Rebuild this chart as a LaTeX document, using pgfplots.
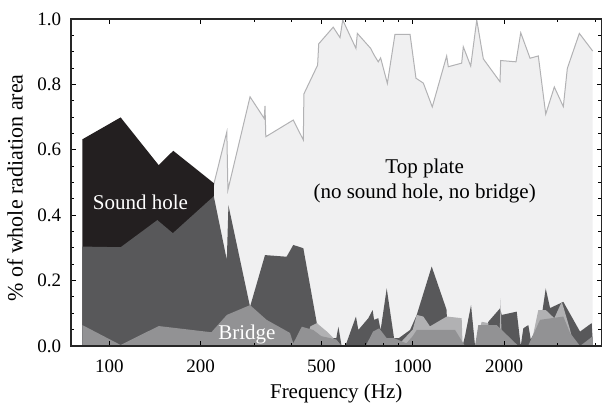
\documentclass[border=0pt]{standalone}
\usepackage{pgfplots}
\pgfplotsset{compat=1.18}
\usepackage{pgfplotstable}
\usepackage{fontspec}
\setmainfont{Liberation Serif}

\definecolor{topfill}{RGB}{240,240,241}
\definecolor{topline}{RGB}{178,178,180}
\definecolor{holecol}{RGB}{35,31,32}
\definecolor{darkcol}{RGB}{88,88,90}
\definecolor{lightmed}{RGB}{177,177,179}
\definecolor{bridgecol}{RGB}{146,146,148}

\pgfplotstableread{
f v
220 0.487
244 0.655
246 0.477
291 0.762
324 0.696
326 0.734
328 0.640
404 0.691
436 0.630
438 0.771
486 0.859
490 0.924
547 0.975
576 0.943
588 0.997
650 0.910
657 0.956
727 0.910
746 0.890
770 0.869
784 0.881
825 0.803
874 0.953
980 0.953
1025 0.819
1084 0.804
1160 0.731
1294 0.887
1310 0.854
1450 0.865
1468 0.915
1553 0.856
1626 0.997
1709 0.878
1940 0.808
1950 0.873
2190 0.869
2270 0.958
2436 0.880
2594 0.887
2744 0.709
2929 0.792
3136 0.732
3233 0.849
3541 0.956
3920 0.902
}\toptable

\pgfplotstableread{
f v
81.5 0.632
109 0.699
145.5 0.553
162.5 0.597
221 0.498
}\holetable

\pgfplotstableread{
f v
81.5 0.304
109 0.302
144 0.385
162 0.345
221 0.458
244 0.263
247 0.430
291 0.120
326 0.278
384 0.273
404 0.309
436 0.299
483 0.070
521 0.024
560 0.024
569 0.059
583 0.000
600 0.000
650 0.090
662 0.049
714 0.085
738 0.110
746 0.080
770 0.085
784 0.049
821 0.176
868 0.024
900 0.024
980 0.049
1031 0.095
1155 0.243
1294 0.110
1300 0.000
1460 0.000
1487 0.030
1557 0.125
1605 0.000
1700 0.000
1775 0.074
1940 0.115
1965 0.095
2202 0.105
2258 0.018
2270 0.000
2315 0.054
2404 0.064
2450 0.020
2550 0.050
2650 0.080
2744 0.176
2836 0.116
3136 0.135
3560 0.044
3890 0.070
3920 0.015
}\darktable

\pgfplotstableread{
f v
440 0.000
460 0.060
483 0.070
520 0.045
547 0.025
560 0.000
890 0.000
1000 0.050
1031 0.095
1084 0.090
1140 0.060
1294 0.090
1300 0.090
1450 0.085
1460 0.000
1605 0.000
1688 0.074
1775 0.070
1800 0.000
1930 0.000
1950 0.146
1965 0.000
2450 0.000
2594 0.110
2744 0.110
2929 0.085
3098 0.135
3136 0.120
3300 0.050
3400 0.000
}\lighttable

\pgfplotstableread{
f v
81.5 0.064
109 0.003
145.5 0.061
217 0.042
244 0.095
291 0.125
330 0.080
394 0.040
404 0.008
431 0.059
470 0.049
500 0.030
560 0.020
583 0.000
700 0.000
740 0.044
775 0.054
821 0.024
868 0.024
953 0.008
1000 0.030
1031 0.049
1140 0.049
1300 0.049
1379 0.049
1487 0.000
1605 0.000
1645 0.064
1892 0.064
2229 0.000
2400 0.000
2628 0.080
3136 0.090
3300 0.040
3560 0.000
3800 0.020
3920 0.030
}\bridgetable

\begin{document}
\begin{tikzpicture}
\begin{axis}[
  scale only axis, width=265.25pt, height=163.5pt,
  xmode=log, xmin=74.8, xmax=4190, ymin=0, ymax=1,
  axis on top,
  xtick={100,200,500,1000,2000},
  xticklabels={100,200,500,1000,2000},
  minor xtick={300,400,600,700,800,900,3000,4000},
  ytick={0,0.2,0.4,0.6,0.8,1.0},
  minor ytick={0.05,0.1,0.15,0.25,0.3,0.35,0.45,0.5,0.55,0.65,0.7,0.75,0.85,0.9,0.95},
  yticklabel style={/pgf/number format/fixed, /pgf/number format/fixed zerofill, /pgf/number format/precision=1, xshift=-1.4pt},
  /pgf/number format/assume math mode=true,
  tick align=inside,
  major tick length=2.4pt, minor tick length=1.6pt,
  tick style={line width=0.5pt, black},
  axis line style={line width=0.6pt, black!85},
  ticklabel style={font=\fontsize{9.5}{11}\selectfont},
  xticklabel style={yshift=-3.3pt},
  xlabel={Frequency (Hz)},
  ylabel={\% of whole radiation area},
  xlabel style={font=\fontsize{10.5}{12}\selectfont, at={(axis description cs:0.5,0)}, anchor=center, yshift=-23.5pt},
  ylabel style={font=\fontsize{11}{13}\selectfont, at={(axis description cs:0,0.5)}, anchor=center, yshift=28pt, xshift=-2.75pt},
]
\addplot[fill=topfill, draw=none] table[x=f, y=v] {\toptable} \closedcycle;
\addplot[topline, line width=0.5pt] table[x=f, y=v] {\toptable};
\addplot[fill=holecol, draw=none] table[x=f, y=v] {\holetable} \closedcycle;
\addplot[fill=darkcol, draw=none] table[x=f, y=v] {\darktable} \closedcycle;
\addplot[fill=lightmed, draw=none] table[x=f, y=v] {\lighttable} \closedcycle;
\addplot[fill=bridgecol, draw=none] table[x=f, y=v] {\bridgetable} \closedcycle;
\node[white, font=\fontsize{10.5}{12}\selectfont] at (axis cs:126.7,0.44) {Sound hole};
\node[white, font=\fontsize{10.5}{12}\selectfont] at (axis cs:284,0.036) {Bridge};
\node[align=center, font=\fontsize{10.5}{12.5}\selectfont] at (axis cs:1095,0.505) {Top plate\\(no sound hole, no bridge)};
\end{axis}
\pgfresetboundingbox
\path (-35.5pt,-29.5pt) rectangle (265.5pt,173pt);
\end{tikzpicture}
\end{document}
